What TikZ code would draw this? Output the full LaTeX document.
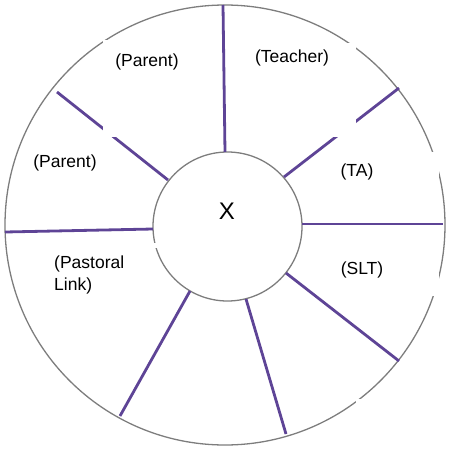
\documentclass[tikz,border=0pt]{standalone}
\usepackage{fontspec}
\setmainfont{Liberation Sans}
\definecolor{spokecol}{RGB}{94,68,150}
\definecolor{ringcol}{RGB}{125,125,125}
\begin{document}
\begin{tikzpicture}[x=1pt,y=-1pt,
  ring/.style={draw=ringcol,line width=1.3pt,circle,inner sep=0pt},
  spoke/.style={draw=spokecol,line width=2.8pt},
  lab/.style={font=\fontsize{17.5}{22}\selectfont,inner sep=0pt,text=black},
  mask/.style={fill=white,draw=none}]
\useasboundingbox (0,0) rectangle (448,453);
% rings
\node[ring,minimum size=440pt] (outer) at (225,225) {};
\node[ring,minimum size=149pt] (inner) at (227.5,226.5) {};
% spoke end points
\coordinate (i1) at (225,152);  \coordinate (o1) at (223,5);
\coordinate (i2) at (168,180);  \coordinate (o2) at (57,92);
\coordinate (i3) at (153,229);  \coordinate (o3) at (5,232);
\coordinate (i4) at (190,291);  \coordinate (o4) at (120,416);
\coordinate (i5) at (246,299);  \coordinate (o5) at (286,434);
\coordinate (i6) at (286,273);  \coordinate (o6) at (399,361);
\coordinate (i7) at (302,224);  \coordinate (o7) at (443,224);
\coordinate (i8) at (284,177);  \coordinate (o8) at (399,88);
\draw[spoke] (i1) -- (o1);
\draw[spoke] (i2) -- (o2);
\draw[spoke] (i3) -- (o3);
\draw[spoke] (i4) -- (o4);
\draw[spoke] (i5) -- (o5);
\draw[spoke] (i6) -- (o6);
\draw[spoke] (i8) -- (o8);
% white patches that break the lines in the reference
\fill[mask] (103,40) rectangle (200,137);
\fill[mask] (240,43) rectangle (356,137);
\fill[mask] (320,152) rectangle (439,296);
\fill[mask] (356,399) rectangle (364,409);
\fill[mask] (150,243) rectangle (157,248);
\draw[spoke] (i7) -- (o7);
% labels
\node[lab] (pA) at (147,62) {(Parent)};
\node[lab] (pB) at (65,163) {(Parent)};
\node[lab] (tch) at (292,58) {(Teacher)};
\node[lab] (ta) at (357,172) {(TA)};
\node[lab] (slt) at (362,270) {(SLT)};
\node[lab,anchor=west,align=left] (pl) at (54,275) {(Pastoral\\Link)};
\node[inner sep=0pt,font=\fontsize{24}{28}\selectfont] (x) at (227,211) {X};
\end{tikzpicture}
\end{document}
